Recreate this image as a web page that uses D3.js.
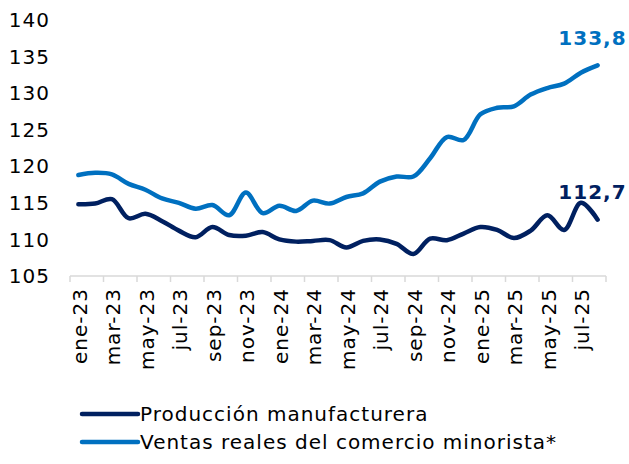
<!DOCTYPE html>
<html>
<head>
<meta charset="utf-8">
<script src="https://cdn.jsdelivr.net/npm/d3@7"></script>
<style>
  body { margin: 0; background: #fff; }
  text { font-family: "DejaVu Sans", Verdana, sans-serif; letter-spacing: 1px; }
</style>
</head>
<body>
<script>
var months = ["ene-23","feb-23","mar-23","abr-23","may-23","jun-23","jul-23","ago-23","sep-23","oct-23","nov-23","dic-23",
  "ene-24","feb-24","mar-24","abr-24","may-24","jun-24","jul-24","ago-24","sep-24","oct-24","nov-24","dic-24",
  "ene-25","feb-25","mar-25","abr-25","may-25","jun-25","jul-25","ago-25"];

var produccion = [114.8,114.9,115.5,112.9,113.5,112.5,111.2,110.3,111.7,110.6,110.5,111.0,
  110.0,109.7,109.8,109.9,108.9,109.8,110.0,109.4,108.0,110.1,109.9,110.8,
  111.7,111.3,110.2,111.2,113.3,111.3,115.0,112.7];

var ventas = [118.8,119.1,118.9,117.6,116.8,115.6,115.0,114.2,114.7,113.3,116.4,113.6,
  114.6,113.9,115.3,114.9,115.8,116.3,117.9,118.6,118.6,121.1,124.0,123.6,
  127.1,128.0,128.2,129.8,130.7,131.3,132.8,133.8];

var yTicks = [105,110,115,120,125,130,135,140];

var series = [
  {name: "Producción manufacturera", values: produccion, color: "#002060", label: "112,7"},
  {name: "Ventas reales del comercio minorista*", values: ventas, color: "#0070C0", label: "133,8"}
];

var W = 629, H = 464;
var svg = d3.select("body").append("svg").attr("width", W).attr("height", H);

var x = d3.scaleBand().domain(months).range([70, 606]);
var y = d3.scaleLinear().domain([105, 140]).range([276, 20]);
var cx = function (m) { return x(m) + x.bandwidth() / 2; };

// y axis labels
svg.append("g").selectAll("text").data(yTicks).enter().append("text")
  .attr("x", 50).attr("y", function (d) { return y(d); })
  .attr("dy", "0.36em").attr("text-anchor", "end")
  .style("font-size", "20px").attr("fill", "#000")
  .text(function (d) { return d; });

// x axis line and ticks every two months
var ax = svg.append("g");
ax.append("line").attr("x1", 70).attr("x2", 606).attr("y1", 276).attr("y2", 276)
  .attr("stroke", "#d9d9d9").attr("stroke-width", 1.5);
var tickPos = months.filter(function (m, i) { return i % 2 === 0; }).map(function (m) { return x(m); });
tickPos.push(606);
ax.selectAll("line.tk").data(tickPos).enter().append("line").attr("class", "tk")
  .attr("x1", function (d) { return d; }).attr("x2", function (d) { return d; })
  .attr("y1", 276).attr("y2", 282).attr("stroke", "#d9d9d9").attr("stroke-width", 1.5);

ax.selectAll("text").data(months.filter(function (m, i) { return i % 2 === 0; })).enter().append("text")
  .attr("transform", function (d) { return "translate(" + (cx(d) + 1) + ",288) rotate(-90)"; })
  .attr("text-anchor", "end").attr("dy", "0.36em")
  .style("font-size", "20px").attr("fill", "#000")
  .text(function (d) { return d; });

// lines
var line = d3.line()
  .x(function (d, i) { return cx(months[i]); })
  .y(function (d) { return y(d); })
  .curve(d3.curveCatmullRom.alpha(0.5));

svg.selectAll("path.series").data(series).enter().append("path").attr("class", "series")
  .attr("d", function (d) { return line(d.values); })
  .attr("fill", "none").attr("stroke", function (d) { return d.color; })
  .attr("stroke-width", 4.5).attr("stroke-linecap", "round").attr("stroke-linejoin", "round");

// end labels
var last = months[months.length - 1];
svg.selectAll("text.endlbl").data(series).enter().append("text").attr("class", "endlbl")
  .attr("x", cx(last) + 29)
  .attr("y", function (d) { return y(d.values[d.values.length - 1]) - 28; })
  .attr("text-anchor", "end").attr("dy", "0.36em")
  .style("font-size", "20px").style("font-weight", "bold")
  .attr("fill", function (d) { return d.color; })
  .text(function (d) { return d.label; });

// legend
var lg = svg.selectAll("g.legend").data(series).enter().append("g").attr("class", "legend")
  .attr("transform", function (d, i) { return "translate(82," + (414 + i * 28) + ")"; });
lg.append("line").attr("x1", 0).attr("x2", 56).attr("y1", 0).attr("y2", 0)
  .attr("stroke", function (d) { return d.color; }).attr("stroke-width", 4.5).attr("stroke-linecap", "round");
lg.append("text").attr("x", 58).attr("y", 0).attr("dy", "0.36em")
  .style("font-size", "20px").attr("fill", "#000")
  .text(function (d) { return d.name; });
</script>
</body>
</html>
